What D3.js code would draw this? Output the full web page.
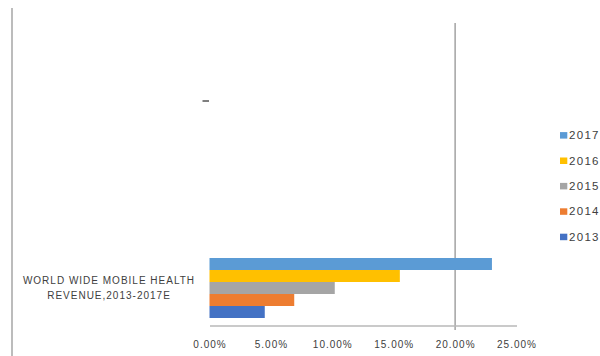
<!DOCTYPE html>
<html>
<head>
<meta charset="utf-8">
<script src="https://cdn.jsdelivr.net/npm/d3@7"></script>
<style>
  html, body { margin: 0; padding: 0; background: #fff; }
  svg { display: block; }
  text { font-family: "Liberation Sans", Arial, sans-serif; fill: #404040; }
</style>
</head>
<body>
<svg id="chart" width="600" height="356"></svg>
<script>
// Worldwide mobile health revenue growth, one bar per year
const years = ["2017", "2016", "2015", "2014", "2013"];
const values = [23.0, 15.5, 10.2, 6.9, 4.5];
const colors = ["#5b9bd5", "#ffc000", "#a5a5a5", "#ed7d31", "#4472c4"];
const categoryLines = ["WORLD WIDE MOBILE HEALTH", "REVENUE,2013-2017E"];
const tickValues = [0, 5, 10, 15, 20, 25];
const markerValue = 20;

const svg = d3.select("#chart");

const x = d3.scaleLinear().domain([0, 25]).range([209.5, 516.5]);
const y = d3.scaleBand().domain(years).range([258, 318]).paddingInner(0);

// frame line on the left
svg.append("line")
  .attr("x1", 12).attr("x2", 12).attr("y1", 8).attr("y2", 356)
  .attr("stroke", "#a6a6a6").attr("stroke-width", 1.5);

// small stray tick mark
svg.append("line")
  .attr("x1", 202.5).attr("x2", 209).attr("y1", 101).attr("y2", 101)
  .attr("stroke", "#555").attr("stroke-width", 1.5);

// vertical reference line at 20%
svg.append("line")
  .attr("x1", x(markerValue)).attr("x2", x(markerValue))
  .attr("y1", 23).attr("y2", 330)
  .attr("stroke", "#8c8c8c").attr("stroke-width", 1.2);

// bars
svg.append("g").selectAll("rect")
  .data(years)
  .join("rect")
  .attr("x", x(0))
  .attr("y", d => y(d))
  .attr("width", (d, i) => x(values[i]) - x(0))
  .attr("height", y.bandwidth())
  .attr("fill", (d, i) => colors[i]);

// x axis
const axis = d3.axisBottom(x)
  .tickValues(tickValues)
  .tickSize(0)
  .tickPadding(0)
  .tickFormat(d => d.toFixed(2) + "%");

const gx = svg.append("g").attr("transform", "translate(0,325.5)").call(axis);
gx.select(".domain").attr("stroke", "#b8b8b8").attr("stroke-width", 1.5);
gx.selectAll("text")
  .attr("y", 22.5).attr("dy", null)
  .attr("fill", "#404040")
  .style("font-size", "10px")
  .style("letter-spacing", "1px")
  .style("font-family", "'Liberation Sans', Arial, sans-serif");

// category label
svg.append("text")
  .attr("text-anchor", "middle")
  .style("font-size", "10px")
  .style("letter-spacing", "1px")
  .selectAll("tspan")
  .data(categoryLines)
  .join("tspan")
  .attr("x", 109)
  .attr("y", (d, i) => 284 + i * 14.7)
  .text(d => d);

// legend
const legend = svg.append("g").selectAll("g")
  .data(years)
  .join("g")
  .attr("transform", (d, i) => `translate(560,${135.3 + i * 25.4})`);

legend.append("rect")
  .attr("x", 0).attr("y", -3.2).attr("width", 7.3).attr("height", 6.5)
  .attr("fill", (d, i) => colors[i]);

legend.append("text")
  .attr("x", 9).attr("y", 3.9)
  .style("font-size", "11.5px")
  .style("letter-spacing", "1.3px")
  .text(d => d);
</script>
</body>
</html>
